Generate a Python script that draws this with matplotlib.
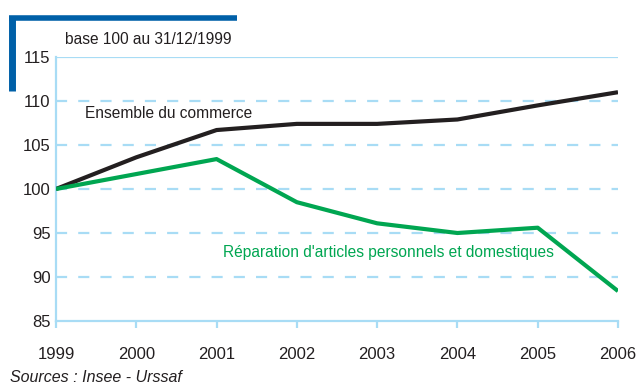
import matplotlib.pyplot as plt
from matplotlib.lines import Line2D

years = [1999, 2000, 2001, 2002, 2003, 2004, 2005, 2006]
commerce = [100, 103.6, 106.7, 107.4, 107.4, 107.9, 109.5, 111.0]
reparation = [100, 101.7, 103.4, 98.5, 96.1, 95.0, 95.6, 88.4]
yticks = [85, 90, 95, 100, 105, 110, 115]

plt.rcParams['font.family'] = ['Liberation Sans', 'DejaVu Sans']
grid_col = '#a8dcf5'
green = '#00a651'
dark = '#231f20'

fig = plt.figure(figsize=(6.36, 3.88), dpi=100)
ax = fig.add_axes([56 / 636, 1 - 321 / 388, (618 - 56) / 636, (321 - 57) / 388])

for y in yticks[1:-1]:
    ax.axhline(y, color=grid_col, lw=1.6, dashes=(5, 5), zorder=1)
ax.axhline(115, color=grid_col, lw=1.6, zorder=1)

ax.plot(years, commerce, color=dark, lw=3, zorder=3, solid_capstyle='butt')
ax.plot(years, reparation, color=green, lw=3, zorder=3, solid_capstyle='butt')

ax.set_xlim(1999, 2006)
ax.set_ylim(85, 115)
ax.set_xticks(years)
ax.set_yticks(yticks)
for s in ['top', 'right']:
    ax.spines[s].set_visible(False)
for s in ['left', 'bottom']:
    ax.spines[s].set_color(grid_col)
    ax.spines[s].set_linewidth(1.6)
ax.tick_params(axis='x', colors=grid_col, length=5, width=1.6, labelcolor=dark,
               labelsize=12, pad=14)
ax.tick_params(axis='y', length=0, labelcolor=dark, labelsize=12, pad=4)

ax.text(1999.36, 108.6, 'Ensemble du commerce', color=dark, fontsize=11.2, va='center')
ax.text(2001.08, 92.8, "Réparation d'articles personnels et domestiques",
        color=green, fontsize=11.2, va='center')

fig.text(65 / 636, 1 - 40 / 388, 'base 100 au 31/12/1999', color=dark,
         fontsize=11.2, va='center')
fig.text(10 / 636, 1 - 378 / 388, 'Sources : Insee - Urssaf', color=dark,
         fontsize=11.5, va='center', style='italic')

# bracket in the top-left corner
blue = '#0060a8'
fig.add_artist(Line2D([9 / 636, 237 / 636], [1 - 18 / 388, 1 - 18 / 388],
                      color=blue, lw=4, solid_capstyle='butt'))
fig.add_artist(Line2D([12 / 636, 12 / 636], [1 - 16 / 388, 1 - 91 / 388],
                      color=blue, lw=5, solid_capstyle='butt'))

fig.savefig('out.png', dpi=100)
